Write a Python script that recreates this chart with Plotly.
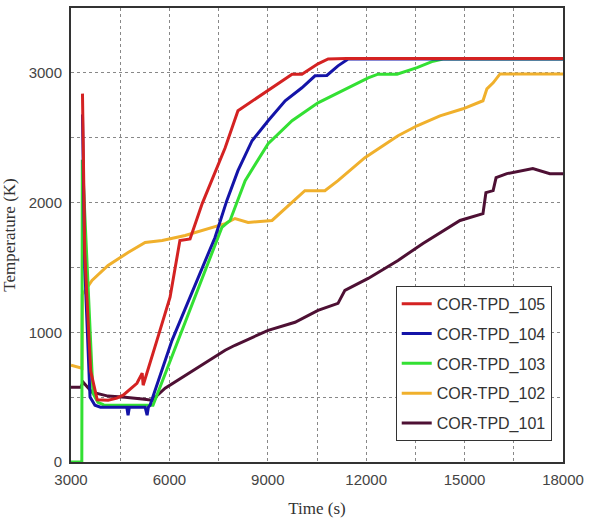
import plotly.graph_objects as go

# ---- data ----
t105 = [3350, 3420, 3600, 3800, 4130, 4400, 4590, 5010, 5170, 5200, 5620, 6020, 6320, 6630, 7000, 7700, 8090, 9010, 9740, 10040, 10530, 10840, 11400, 18000]
T105 = [2840, 1600, 700, 480, 477, 492, 515, 607, 685, 592, 938, 1270, 1708, 1720, 1992, 2423, 2708, 2862, 2990, 2990, 3070, 3107, 3110, 3110]

t104 = [3350, 3420, 3580, 3730, 3900, 4700, 4740, 4780, 5260, 5320, 5360, 5410, 6080, 7390, 7750, 8090, 8520, 9010, 9530, 10040, 10440, 10800, 11140, 11450, 18000]
T104 = [2680, 1500, 500, 438, 423, 423, 361, 423, 423, 361, 423, 438, 938, 1731, 2015, 2246, 2477, 2631, 2785, 2885, 2977, 2980, 3054, 3107, 3107]

t103 = [3000, 3330, 3345, 3420, 3580, 3670, 3820, 4000, 5500, 6260, 7600, 7850, 8310, 9010, 9740, 10530, 11260, 12060, 12360, 12940, 13550, 14040, 14340, 18000]
T103 = [0, 0, 2330, 1900, 990, 530, 460, 440, 438, 938, 1808, 1862, 2169, 2454, 2631, 2769, 2862, 2962, 2990, 2990, 3040, 3090, 3107, 3107]

t102 = [3000, 3300, 3335, 3345, 3640, 4130, 4740, 5260, 5780, 6480, 7180, 7700, 8000, 8400, 9130, 10130, 10740, 11140, 11960, 12970, 13550, 14250, 14950, 15560, 15680, 15870, 16080, 18000]
T102 = [746, 723, 723, 1290, 1400, 1515, 1615, 1692, 1708, 1746, 1800, 1838, 1877, 1846, 1862, 2092, 2092, 2169, 2346, 2515, 2592, 2669, 2723, 2785, 2877, 2923, 2992, 2992]

t101 = [3000, 3300, 3370, 3640, 4130, 4650, 5170, 5470, 5870, 6870, 7700, 8000, 9010, 9830, 10530, 11140, 11350, 12060, 12970, 13730, 14860, 15560, 15650, 15870, 15960, 16290, 17080, 17600, 18000]
T101 = [577, 577, 615, 538, 508, 500, 485, 477, 569, 731, 862, 900, 1015, 1077, 1169, 1223, 1323, 1415, 1554, 1685, 1862, 1915, 2077, 2092, 2192, 2223, 2262, 2223, 2223]

series = [
    ("COR-TPD_105", t105, T105, "#d42222"),
    ("COR-TPD_104", t104, T104, "#1414a8"),
    ("COR-TPD_103", t103, T103, "#33e033"),
    ("COR-TPD_102", t102, T102, "#f0b02c"),
    ("COR-TPD_101", t101, T101, "#4e1034"),
]

x_ticks = [3000, 6000, 9000, 12000, 15000, 18000]
y_ticks = [0, 1000, 2000, 3000]

fig = go.Figure()
# draw in reverse so 105 ends on top; legend order set by legendrank
for rank, (name, x, y, c) in reversed(list(enumerate(series))):
    fig.add_trace(go.Scatter(x=x, y=y, mode="lines", name=name, legendgroup=name,
                             legendrank=rank + 1, line=dict(color=c, width=3)))

tick_font = dict(family="Liberation Sans", size=15, color="#444")
title_font = dict(family="Liberation Serif, DejaVu Serif", size=17, color="#333")

fig.update_layout(
    width=590, height=522,
    margin=dict(l=71, r=27, t=8, b=60),
    paper_bgcolor="white", plot_bgcolor="white",
    showlegend=True,
    legend=dict(
        x=0.66, y=0.388, xanchor="left", yanchor="top",
        traceorder="grouped", tracegroupgap=6,
        font=dict(family="Liberation Sans", size=16, color="#333"),
        bordercolor="#333", borderwidth=1, bgcolor="white",
        itemwidth=30,
    ),
    xaxis=dict(
        range=[3000, 18000], tickvals=x_ticks, ticktext=[str(v) for v in x_ticks],
        showgrid=True, gridcolor="#888", griddash="dot", gridwidth=1,
        minor=dict(dtick=1500, tick0=3000, showgrid=True, gridcolor="#888", griddash="dot", gridwidth=1),
        showline=True, linecolor="#333", linewidth=2, mirror=True, automargin=False,
        ticks="", tickfont=tick_font, zeroline=False, ticklabelstandoff=3,
        title=dict(text="Time (s)", font=title_font),
    ),
    yaxis=dict(
        range=[0, 3500], tickvals=y_ticks, ticktext=[str(v) for v in y_ticks],
        showgrid=True, gridcolor="#888", griddash="dot", gridwidth=1,
        minor=dict(dtick=500, tick0=0, showgrid=True, gridcolor="#888", griddash="dot", gridwidth=1),
        showline=True, linecolor="#333", linewidth=2, mirror=True, automargin=False,
        ticks="", tickfont=tick_font, zeroline=False, ticklabelstandoff=4,
        title=dict(text="Temperature (K)", font=title_font),
    ),
)

fig.write_html("out.html")
